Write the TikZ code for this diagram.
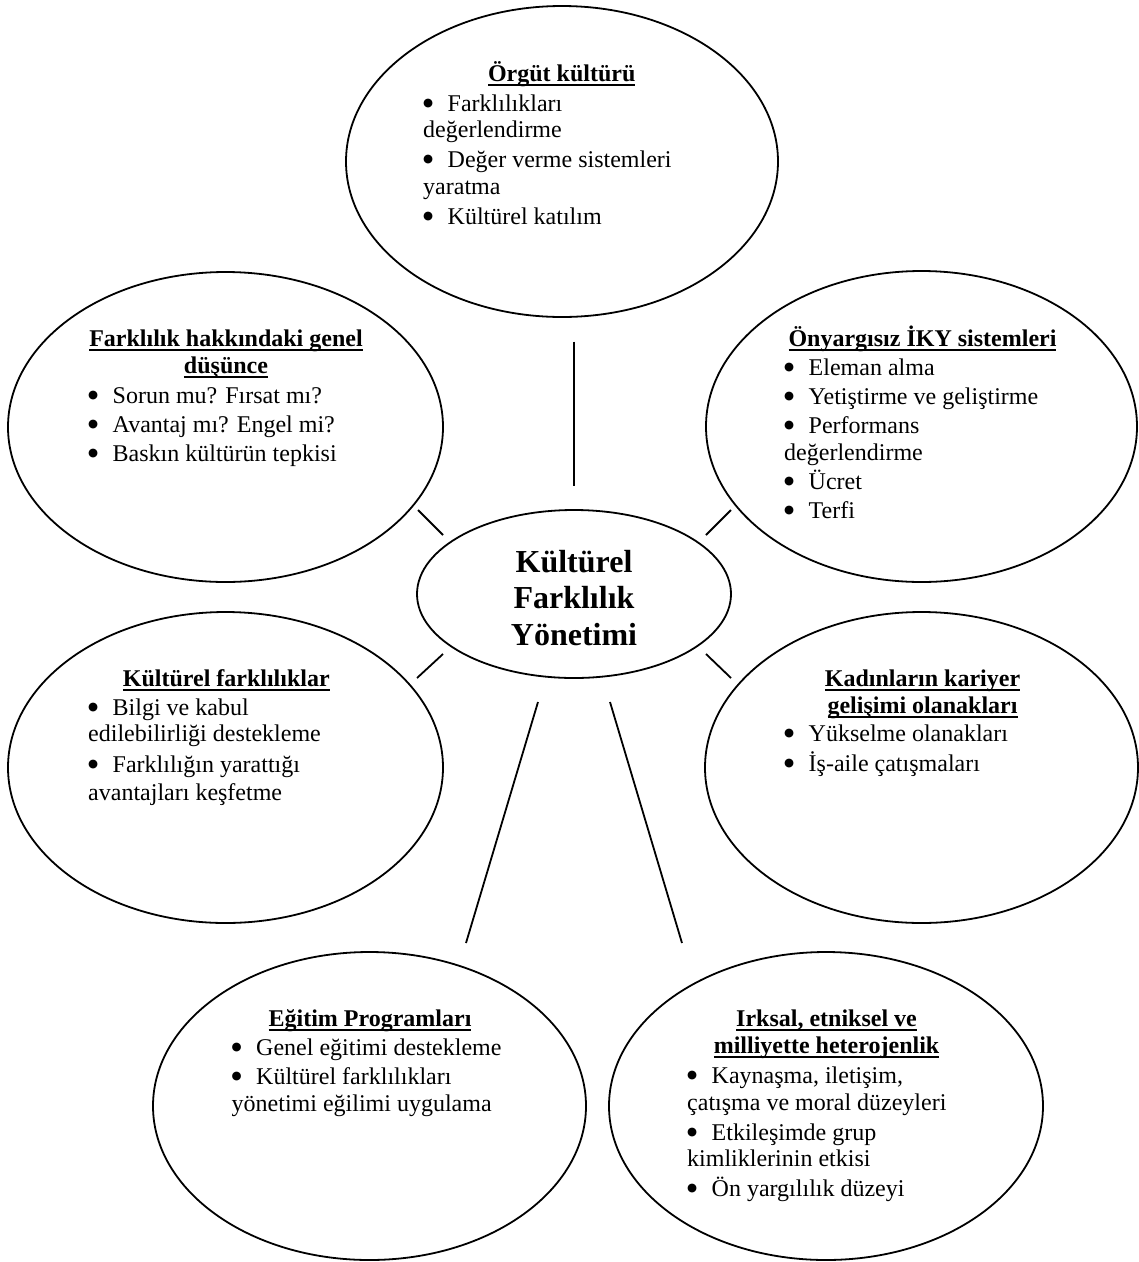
\documentclass[tikz,border=0pt]{standalone}
\usepackage{fontspec}
\setmainfont{Liberation Serif}
\newfontfamily\dotfont{DejaVu Sans}
\usetikzlibrary{shapes.geometric}

% bullet followed by the list tab
\newcommand\bu{\makebox[24.5pt][l]{\raisebox{5pt}{\dotfont\fontsize{11.5pt}{12pt}\selectfont ●}}}
% Word-like underline crossing the descenders
\newcommand\ulin[1]{\setbox0=\hbox{#1}\rlap{\rule[-4.5pt]{\wd0}{2.2pt}}\box0}
% one text row placed #1 pt below the previous baseline
\newcommand\rowat[2]{\baselineskip=#1pt\hbox{#2}}
% centred, underlined heading of one or two rows
\newcommand\headtwo[2]{\vtop{\baselineskip=26.7pt\halign{\hfil##\hfil\cr\ulin{#1}\cr\ulin{#2}\cr}}}
% centred title of the middle oval
\newcommand\midtitle[3]{\vtop{\baselineskip=36.5pt\halign{\hfil##\hfil\cr #1\cr #2\cr #3\cr}}}

\tikzset{
  oval/.style={ellipse, draw, line width=1.8pt, inner sep=0pt},
  link/.style={line width=1.8pt},
  body/.style={inner sep=0pt, anchor=base west, font=\fontsize{24pt}{26.7pt}\selectfont},
  head/.style={inner sep=0pt, anchor=base, font=\fontsize{24pt}{26.7pt}\selectfont\bfseries},
}

\begin{document}
\begin{tikzpicture}[x=1pt, y=-1pt]
\fill[white] (0,0) rectangle (1139,1262);
\useasboundingbox (0,0) rectangle (1139,1262);

% ovals
\node[oval, minimum width=432pt, minimum height=311pt] (orgut) at (562,161.5) {};
\node[oval, minimum width=435pt, minimum height=310pt] (genel) at (225.5,427) {};
\node[oval, minimum width=431pt, minimum height=311pt] (iky) at (921.5,426.5) {};
\node[oval, minimum width=314pt, minimum height=168pt] (merkez) at (574,594) {};
\node[oval, minimum width=435pt, minimum height=311pt] (kfark) at (225.5,767.5) {};
\node[oval, minimum width=433pt, minimum height=311pt] (kadin) at (921.5,767.5) {};
\node[oval, minimum width=433pt, minimum height=308pt] (egitim) at (369.5,1106) {};
\node[oval, minimum width=434pt, minimum height=308pt] (irk) at (826,1106) {};

% connector end points
\coordinate (a1) at (574,341.7);  \coordinate (a2) at (574,486);
\coordinate (b1) at (418,510);    \coordinate (b2) at (443,535);
\coordinate (c1) at (731,510);    \coordinate (c2) at (706,535);
\coordinate (d1) at (417,678);    \coordinate (d2) at (443,654);
\coordinate (e1) at (731,678);    \coordinate (e2) at (706,654);
\coordinate (f1) at (538,702);    \coordinate (f2) at (466,943);
\coordinate (g1) at (610,702);    \coordinate (g2) at (682,943);

\draw[link] (a1) -- (a2);
\draw[link] (b1) -- (b2);
\draw[link] (c1) -- (c2);
\draw[link] (d1) -- (d2);
\draw[link] (e1) -- (e2);
\draw[link] (f1) -- (f2);
\draw[link] (g1) -- (g2);

% middle title
\node[inner sep=0pt, anchor=base, font=\fontsize{32pt}{36.5pt}\selectfont\bfseries] (merkezyazi) at (574,572)
  {\midtitle{Kültürel}{Farklılık}{Yönetimi}};

% Örgüt kültürü
\node[head] (orgutbas) at (561.7,81.7) {\ulin{Örgüt kültürü}};
\node[body] (orgutmaddeler) at (423,111.7) {\vtop{%
  \rowat{0}{\bu Farklılıkları}%
  \rowat{25.6}{değerlendirme}%
  \rowat{30}{\bu Değer verme sistemleri}%
  \rowat{27}{yaratma}%
  \rowat{30}{\bu Kültürel katılım}}};

% Farklılık hakkındaki genel düşünce
\node[head] (genelbas) at (226,346.7) {\headtwo{Farklılık hakkındaki genel}{düşünce}};
\node[body] (genelmaddeler) at (88,403.3) {\vtop{%
  \rowat{0}{\bu Sorun mu? Fırsat mı?}%
  \rowat{29}{\bu Avantaj mı? Engel mi?}%
  \rowat{29.4}{\bu Baskın kültürün tepkisi}}};

% Önyargısız İKY sistemleri
\node[head] (ikybas) at (922.5,346.7) {\ulin{Önyargısız İKY sistemleri}};
\node[body] (ikymaddeler) at (784,375) {\vtop{%
  \rowat{0}{\bu Eleman alma}%
  \rowat{29}{\bu Yetiştirme ve geliştirme}%
  \rowat{29.3}{\bu Performans}%
  \rowat{26.7}{değerlendirme}%
  \rowat{29.3}{\bu Ücret}%
  \rowat{29}{\bu Terfi}}};

% Kültürel farklılıklar
\node[head] (kfarkbas) at (226.3,686.7) {\ulin{Kültürel farklılıklar}};
\node[body] (kfarkmaddeler) at (88,715) {\vtop{%
  \rowat{0}{\bu Bilgi ve kabul}%
  \rowat{26.7}{edilebilirliği destekleme}%
  \rowat{30.6}{\bu Farklılığın yarattığı}%
  \rowat{27.7}{avantajları keşfetme}}};

% Kadınların kariyer gelişimi olanakları
\node[head] (kadinbas) at (922.5,686.7) {\headtwo{Kadınların kariyer}{gelişimi olanakları}};
\node[body] (kadinmaddeler) at (784,741.7) {\vtop{%
  \rowat{0}{\bu Yükselme olanakları}%
  \rowat{30}{\bu İş-aile çatışmaları}}};

% Eğitim Programları
\node[head] (egitimbas) at (370,1026.7) {\ulin{Eğitim Programları}};
\node[body] (egitimmaddeler) at (231.5,1055) {\vtop{%
  \rowat{0}{\bu Genel eğitimi destekleme}%
  \rowat{29.3}{\bu Kültürel farklılıkları}%
  \rowat{27.4}{yönetimi eğilimi uygulama}}};

% Irksal, etniksel ve milliyette heterojenlik
\node[head] (irkbas) at (826.5,1026.7) {\headtwo{Irksal, etniksel ve}{milliyette heterojenlik}};
\node[body] (irkmaddeler) at (687,1083.3) {\vtop{%
  \rowat{0}{\bu Kaynaşma, iletişim,}%
  \rowat{27.4}{çatışma ve moral düzeyleri}%
  \rowat{29.3}{\bu Etkileşimde grup}%
  \rowat{26.7}{kimliklerinin etkisi}%
  \rowat{29.3}{\bu Ön yargılılık düzeyi}}};
\end{tikzpicture}
\end{document}
